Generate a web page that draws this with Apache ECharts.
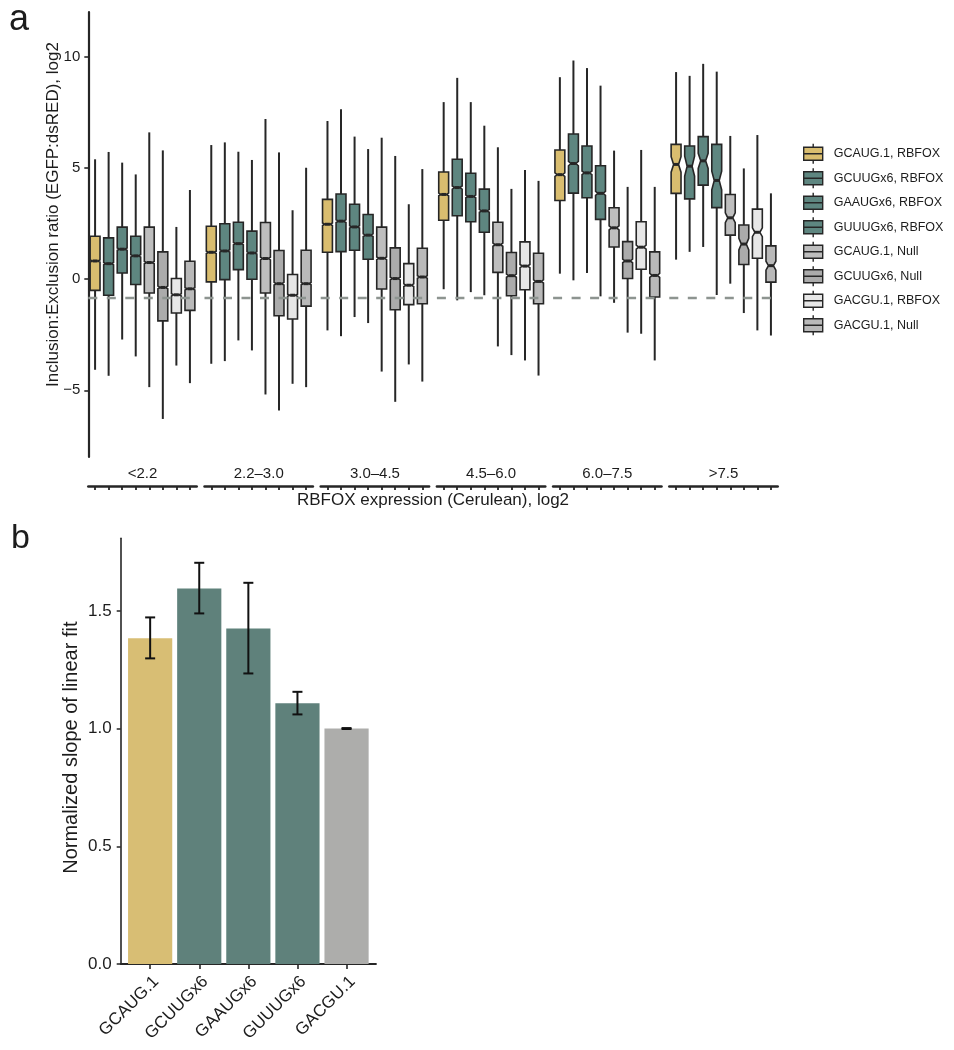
<!DOCTYPE html>
<html>
<head>
<meta charset="utf-8">
<script src="https://cdn.jsdelivr.net/npm/echarts@6/dist/echarts.min.js"></script>
<style>html,body{margin:0;padding:0;background:#fff}#c{width:954px;height:1050px}</style>
</head>
<body>
<div id="c"></div>
<script>
// ---------- Panel a data ----------
const groups = ['<2.2', '2.2–3.0', '3.0–4.5', '4.5–6.0', '6.0–7.5', '>7.5'];
const types = ['GCAUG.1, RBFOX', 'GCUUGx6, RBFOX', 'GAAUGx6, RBFOX', 'GUUUGx6, RBFOX',
               'GCAUG.1, Null', 'GCUUGx6, Null', 'GACGU.1, RBFOX', 'GACGU.1, Null'];
const typeColors = ['#D9BD6F', '#5E8680', '#5E8680', '#5E8680', '#BEBEBE', '#ABABAB', '#E7E7E7', '#B9B9B9'];

const whiskerHigh = [
  [5.38, 5.71, 5.23, 4.70, 6.59, 5.78, 2.34, 4.00],
  [6.02, 6.14, 5.72, 5.35, 7.19, 5.69, 3.09, 5.00],
  [7.10, 7.63, 6.40, 5.84, 6.35, 5.53, 3.36, 4.94],
  [7.95, 9.04, 7.95, 6.89, 5.92, 4.05, 4.90, 4.41],
  [9.07, 9.82, 9.48, 8.69, 5.77, 4.14, 5.80, 4.14],
  [9.30, 9.13, 9.67, 9.32, 6.43, 4.97, 6.47, 3.85]
];
const boxQ3 = [
  [1.92, 1.85, 2.33, 1.92, 2.33, 1.22, 0.02, 0.80],
  [2.37, 2.48, 2.55, 2.15, 2.54, 1.28, 0.20, 1.29],
  [3.58, 3.82, 3.36, 2.90, 2.33, 1.40, 0.69, 1.38],
  [4.81, 5.38, 4.75, 4.04, 2.55, 1.19, 1.67, 1.16],
  [5.80, 6.52, 5.98, 5.09, 3.20, 1.68, 2.57, 1.22],
  [6.05, 5.98, 6.40, 6.05, 3.80, 2.43, 3.14, 1.49]
];
const boxMedian = [
  [0.81, 0.69, 1.34, 1.04, 0.74, -0.38, -0.71, -0.44],
  [1.20, 1.26, 1.59, 1.17, 0.92, -0.21, -0.73, -0.21],
  [2.46, 2.60, 2.34, 1.97, 0.93, 0.02, -0.28, 0.09],
  [3.80, 4.11, 3.71, 3.06, 1.54, 0.15, 0.58, -0.11],
  [4.69, 5.19, 4.77, 3.85, 2.30, 0.81, 1.43, 0.16],
  [5.15, 5.07, 5.31, 4.43, 2.75, 1.57, 2.10, 0.60]
];
const boxQ1 = [
  [-0.51, -0.73, 0.27, -0.25, -0.63, -1.88, -1.53, -1.41],
  [-0.13, -0.03, 0.42, -0.01, -0.63, -1.65, -1.80, -1.22],
  [1.20, 1.23, 1.29, 0.89, -0.45, -1.38, -1.15, -1.11],
  [2.64, 2.84, 2.57, 2.10, 0.30, -0.75, -0.48, -1.11],
  [3.53, 3.86, 3.65, 2.68, 1.44, 0.02, 0.44, -0.81],
  [3.85, 3.60, 4.22, 3.21, 1.97, 0.65, 0.93, -0.14]
];
const whiskerLow = [
  [-4.08, -4.35, -2.72, -3.48, -4.86, -6.29, -3.89, -4.68],
  [-3.81, -3.69, -2.76, -3.21, -5.19, -5.91, -4.71, -4.86],
  [-2.31, -2.57, -1.71, -1.98, -4.16, -5.52, -3.84, -4.61],
  [-0.46, -0.96, -0.59, -0.73, -3.03, -3.42, -3.66, -4.34],
  [0.24, -0.06, 0.27, -0.78, -1.07, -2.41, -2.46, -3.66],
  [0.87, 1.22, 1.44, -0.72, -0.21, -1.53, -2.31, -2.54]
];
const notchHalf = [
  [0.05, 0.05, 0.05, 0.05, 0.05, 0.06, 0.05, 0.05],
  [0.05, 0.05, 0.05, 0.05, 0.06, 0.06, 0.05, 0.05],
  [0.06, 0.06, 0.05, 0.06, 0.06, 0.06, 0.06, 0.06],
  [0.06, 0.07, 0.06, 0.06, 0.07, 0.07, 0.07, 0.07],
  [0.08, 0.10, 0.08, 0.09, 0.09, 0.08, 0.09, 0.09],
  [0.35, 0.45, 0.34, 0.42, 0.22, 0.26, 0.20, 0.20]
];
const yTicksA = [-5, 0, 5, 10];
const nullBaseline = -0.84;

// ---------- Panel b data ----------
const barCats = ['GCAUG.1', 'GCUUGx6', 'GAAUGx6', 'GUUUGx6', 'GACGU.1'];
const slopes = [1.383, 1.595, 1.425, 1.107, 1.000];
const errLow = [1.298, 1.489, 1.234, 1.060, 0.998];
const errHigh = [1.472, 1.704, 1.619, 1.156, 1.002];
const barColors = ['#D8BE74', '#5F817B', '#5F817B', '#5F817B', '#ADADAB'];
const yTicksB = [0, 0.5, 1.0, 1.5];

// ---------- styling ----------
const FONT = '"Liberation Sans", Arial, Helvetica, sans-serif';
const INK = '#1c1c1c';
const LINE = '#262626';

const chart = echarts.init(document.getElementById('c'), null, { renderer: 'canvas', width: 954, height: 1050 });

function renderBox(params, api) {
  const xi = api.value(0);
  const med = api.value(3);
  const lo = api.coord([xi, api.value(1)]);
  const q1 = api.coord([xi, api.value(2)]);
  const md = api.coord([xi, med]);
  const q3 = api.coord([xi, api.value(4)]);
  const hi = api.coord([xi, api.value(5)]);
  const nh = api.value(6);
  const nLo = api.coord([xi, med - nh])[1];
  const nHi = api.coord([xi, med + nh])[1];
  const x = md[0];
  const hw = api.size([1, 0])[0] * 0.365;
  const ind = hw * 0.5;
  const fill = api.visual('color');
  return {
    type: 'group',
    children: [
      { type: 'line', shape: { x1: x, y1: q3[1], x2: x, y2: hi[1] }, style: { stroke: LINE, lineWidth: 2 } },
      { type: 'line', shape: { x1: x, y1: q1[1], x2: x, y2: lo[1] }, style: { stroke: LINE, lineWidth: 2 } },
      { type: 'polygon', shape: { points: [
          [x - hw, q3[1]], [x - hw, nHi], [x - hw + ind, md[1]], [x - hw, nLo], [x - hw, q1[1]],
          [x + hw, q1[1]], [x + hw, nLo], [x + hw - ind, md[1]], [x + hw, nHi], [x + hw, q3[1]]
        ] }, style: { fill: fill, stroke: LINE, lineWidth: 1.6 } },
      { type: 'line', shape: { x1: x - hw + ind, y1: md[1], x2: x + hw - ind, y2: md[1] }, style: { stroke: LINE, lineWidth: 3 } }
    ]
  };
}

function renderErr(params, api) {
  const i = api.value(0);
  const a = api.coord([i, api.value(1)]);
  const b = api.coord([i, api.value(2)]);
  const cap = 5;
  const st = { stroke: '#111', lineWidth: 2 };
  return {
    type: 'group',
    children: [
      { type: 'line', shape: { x1: a[0], y1: a[1], x2: b[0], y2: b[1] }, style: st },
      { type: 'line', shape: { x1: a[0] - cap, y1: a[1], x2: a[0] + cap, y2: a[1] }, style: st },
      { type: 'line', shape: { x1: b[0] - cap, y1: b[1], x2: b[0] + cap, y2: b[1] }, style: st }
    ]
  };
}

const grid = [], xAxis = [], yAxis = [], series = [];
const minusFmt = v => (v < 0 ? '\u2212' + Math.abs(v) : String(v));

for (let g = 0; g < groups.length; g++) {
  grid.push({ left: 88.3 + g * 116.2, top: 12, width: 108.4, height: 445, outerBoundsMode: 'none' });
  xAxis.push({
    type: 'category', gridIndex: g, data: types, position: 'bottom', offset: 29,
    axisLine: { show: true, onZero: false, lineStyle: { color: LINE, width: 2.5 } },
    axisTick: { show: true, alignWithLabel: true, interval: 0, length: 4, lineStyle: { color: LINE, width: 1.8 } },
    axisLabel: { show: false, interval: 0 }, splitLine: { show: false }
  });
  xAxis.push({
    type: 'category', gridIndex: g, data: [groups[g]], position: 'bottom', offset: 0,
    axisLine: { show: false, onZero: false }, axisTick: { show: false },
    axisLabel: { show: true, margin: 9, fontSize: 15, color: INK, fontFamily: FONT },
    splitLine: { show: false }
  });
  if (g === 0) {
    yAxis.push({
      type: 'value', gridIndex: g, min: -8, max: 12,
      axisLine: { show: true, onZero: false, lineStyle: { color: LINE, width: 2.2 } },
      axisTick: { show: true, length: 4, customValues: yTicksA, lineStyle: { color: LINE, width: 1.6 } },
      axisLabel: { show: true, customValues: yTicksA, formatter: minusFmt, margin: 8, fontSize: 15, color: INK, fontFamily: FONT },
      splitLine: { show: false },
      name: 'Inclusion:Exclusion ratio (EGFP:dsRED), log2', nameLocation: 'middle', nameGap: 26,
      nameMoveOverlap: false,
      nameTextStyle: { fontSize: 17, color: INK, fontFamily: FONT, padding: [0, 0, 0, 40] }
    });
  } else {
    yAxis.push({ type: 'value', gridIndex: g, min: -8, max: 12, show: false, splitLine: { show: false } });
  }
  series.push({
    type: 'line', xAxisIndex: 2 * g, yAxisIndex: g, data: [], z: 1, silent: true,
    markLine: {
      silent: true, symbol: ['none', 'none'], label: { show: false }, animation: false,
      lineStyle: { type: [9, 9.5], color: '#8D9490', width: 2.4 },
      data: [{ yAxis: nullBaseline }]
    }
  });
  for (let t = 0; t < types.length; t++) {
    series.push({
      type: 'custom', name: types[t], xAxisIndex: 2 * g, yAxisIndex: g, z: 3,
      itemStyle: { color: typeColors[t] },
      renderItem: renderBox, clip: false,
      encode: { x: 0, y: [1, 2, 3, 4, 5] },
      data: [[t, whiskerLow[g][t], boxQ1[g][t], boxMedian[g][t], boxQ3[g][t], whiskerHigh[g][t], notchHalf[g][t]]]
    });
  }
}

// panel b: frame grid (6) and bar grid (7)
grid.push({ left: 120.7, top: 538.3, width: 255.3, height: 425.7, outerBoundsMode: 'none' });
grid.push({ left: 125.6, top: 538.3, width: 245.5, height: 425.7, outerBoundsMode: 'none' });
const yMaxB = 1.808;
yAxis.push({
  type: 'value', gridIndex: 6, min: 0, max: yMaxB,
  axisLine: { show: true, onZero: false, lineStyle: { color: LINE, width: 1.6 } },
  axisTick: { show: true, length: 4, customValues: yTicksB, lineStyle: { color: LINE, width: 1.5 } },
  axisLabel: { show: true, customValues: yTicksB, formatter: v => v.toFixed(1), margin: 9, fontSize: 17, color: INK, fontFamily: FONT },
  splitLine: { show: false },
  name: 'Normalized slope of linear fit', nameLocation: 'middle', nameGap: 39,
  nameMoveOverlap: false,
  nameTextStyle: { fontSize: 20, color: INK, fontFamily: FONT, padding: [0, 0, 0, 7] }
});
yAxis.push({ type: 'value', gridIndex: 7, min: 0, max: yMaxB, show: false, splitLine: { show: false } });
xAxis.push({
  type: 'value', gridIndex: 6, min: 0, max: 1,
  axisLine: { show: true, onZero: false, lineStyle: { color: LINE, width: 1.8 } },
  axisTick: { show: false }, axisLabel: { show: false }, splitLine: { show: false }
});
xAxis.push({
  type: 'category', gridIndex: 7, data: barCats,
  axisLine: { show: true, onZero: false, lineStyle: { color: LINE, width: 1.8 } },
  axisTick: { show: true, alignWithLabel: true, interval: 0, length: 5, lineStyle: { color: LINE, width: 1.6 } },
  axisLabel: { show: true, rotate: 45, margin: 9, fontSize: 17, color: INK, fontFamily: FONT, interval: 0, verticalAlign: 'top' },
  splitLine: { show: false }
});
series.push({
  type: 'bar', xAxisIndex: 13, yAxisIndex: 7, barWidth: '90%', z: 2,
  data: slopes.map((v, i) => ({ value: v, itemStyle: { color: barColors[i] } }))
});
series.push({
  type: 'custom', xAxisIndex: 13, yAxisIndex: 7, z: 4, renderItem: renderErr, clip: false,
  encode: { x: 0, y: [1, 2] },
  data: barCats.map((c, i) => [i, errLow[i], errHigh[i]])
});

const option = {
  animation: false,
  backgroundColor: '#ffffff',
  grid, xAxis, yAxis, series,
  legend: {
    show: true, orient: 'vertical', left: 803, top: 143, padding: 0,
    itemWidth: 19, itemHeight: 20, itemGap: 3.1, selectedMode: false,
    icon: 'path://M0,3.5H19V16.5H0Z M0,10H19 M9.5,0V3.5 M9.5,16.5V20',
    data: types,
    itemStyle: { borderColor: LINE, borderWidth: 1.4 },
    textStyle: { fontSize: 12.5, color: INK, fontFamily: FONT, padding: [0, 0, 0, 6] }
  },
  graphic: [
    { type: 'text', left: 9, top: 2, style: { text: 'a', fontSize: 36, fontFamily: FONT, fill: INK } },
    { type: 'text', left: 11, top: 522, style: { text: 'b', fontSize: 34, fontFamily: FONT, fill: INK } },
    { type: 'text', x: 433, y: 500, style: { text: 'RBFOX expression (Cerulean), log2', fontSize: 17, fontFamily: FONT, fill: INK, align: 'center', verticalAlign: 'middle' } }
  ]
};
chart.setOption(option);
</script>
</body>
</html>
